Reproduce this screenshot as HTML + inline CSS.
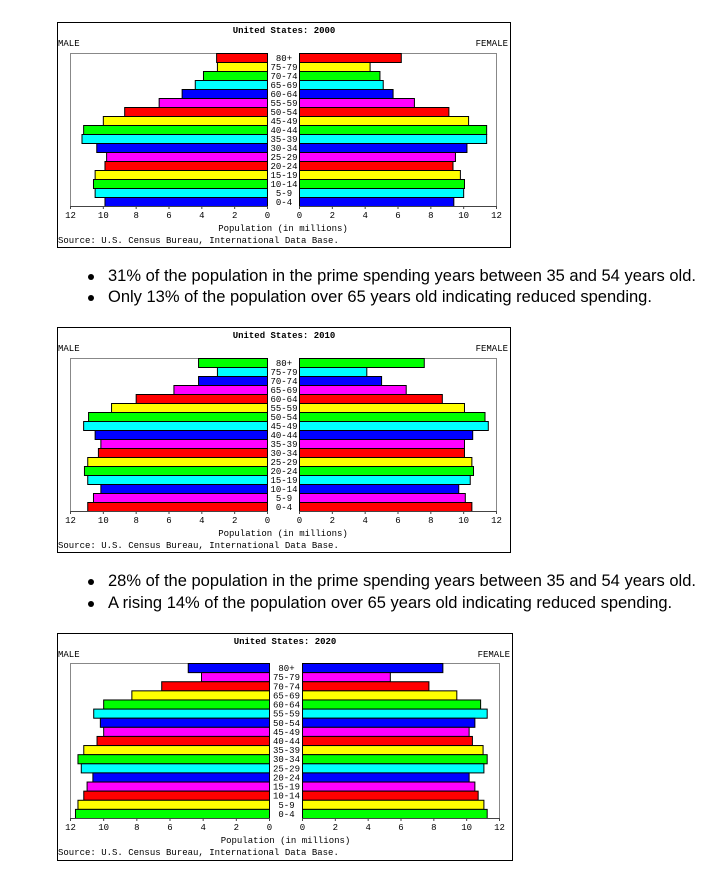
<!DOCTYPE html>
<html><head><meta charset="utf-8">
<style>
body{margin:0;background:#fff;width:705px;height:879px;position:relative;overflow:hidden;font-family:"Liberation Sans",Arial,sans-serif}
svg{position:absolute}
svg text{font-family:"Liberation Mono","DejaVu Sans Mono",monospace;font-size:9px;fill:#000}
.bul{position:absolute;left:88px;font-size:16.5px;color:#000;white-space:nowrap}
.bul span.dot{position:absolute;left:0;top:7px;width:6px;height:6px;border-radius:50%;background:#000}
.bul span.t{position:absolute;left:20px;top:0}
</style></head><body>
<svg id="c1" style="left:57px;top:22px" width="454" height="226"></svg>
<div class="bul" style="top:267px"><span class="dot"></span><span class="t">31% of the population in the prime spending years between 35 and 54 years old.</span></div>
<div class="bul" style="top:288px"><span class="dot"></span><span class="t">Only 13% of the population over 65 years old indicating reduced spending.</span></div>
<svg id="c2" style="left:57px;top:327px" width="454" height="226"></svg>
<div class="bul" style="top:572px"><span class="dot"></span><span class="t">28% of the population in the prime spending years between 35 and 54 years old.</span></div>
<div class="bul" style="top:594px"><span class="dot"></span><span class="t">A rising 14% of the population over 65 years old indicating reduced spending.</span></div>
<svg id="c3" style="left:57px;top:633px" width="456" height="228"></svg>
<script>
const ages = ["80+","75-79","70-74","65-69","60-64","55-59","50-54","45-49","40-44","35-39","30-34","25-29","20-24","15-19","10-14","5-9","0-4"];
const ticks = [12,10,8,6,4,2,0];
const male2000 = [3.1,3.05,3.9,4.4,5.2,6.6,8.7,10.0,11.2,11.3,10.4,9.8,9.9,10.5,10.6,10.5,9.9];
const female2000 = [6.2,4.3,4.9,5.1,5.7,7.0,9.1,10.3,11.4,11.4,10.2,9.5,9.35,9.8,10.05,10.0,9.4];
const colors2000 = ["#ff0000","#ffff00","#00ff00","#00ffff","#0000ff","#ff00ff","#ff0000","#ffff00","#00ff00","#00ffff","#0000ff","#ff00ff","#ff0000","#ffff00","#00ff00","#00ffff","#0000ff"];
const male2010 = [4.2,3.05,4.2,5.7,8.0,9.5,10.9,11.2,10.5,10.15,10.3,10.95,11.15,10.95,10.15,10.6,10.95];
const female2010 = [7.6,4.1,5.0,6.5,8.7,10.05,11.3,11.5,10.55,10.05,10.05,10.5,10.6,10.4,9.7,10.1,10.5];
const colors2010 = ["#00ff00","#00ffff","#0000ff","#ff00ff","#ff0000","#ffff00","#00ff00","#00ffff","#0000ff","#ff00ff","#ff0000","#ffff00","#00ff00","#00ffff","#0000ff","#ff00ff","#ff0000"];
const male2020 = [4.9,4.1,6.5,8.3,10.0,10.6,10.2,10.0,10.4,11.2,11.55,11.35,10.65,11.0,11.2,11.55,11.7];
const female2020 = [8.55,5.35,7.7,9.4,10.85,11.25,10.5,10.15,10.35,11.0,11.25,11.05,10.15,10.5,10.7,11.05,11.25];
const colors2020 = ["#0000ff","#ff00ff","#ff0000","#ffff00","#00ff00","#00ffff","#0000ff","#ff00ff","#ff0000","#ffff00","#00ff00","#00ffff","#0000ff","#ff00ff","#ff0000","#ffff00","#00ff00"];

const NS="http://www.w3.org/2000/svg";
function mk(svg,tag,attrs,txt){const e=document.createElementNS(NS,tag);for(const k in attrs)e.setAttribute(k,attrs[k]);if(txt!==undefined)e.textContent=txt;svg.appendChild(e);return e;}

function draw(id,year,male,female,colors,g){
  const svg=document.getElementById(id);
  const W=+svg.getAttribute('width'),H=+svg.getAttribute('height');
  const xL=v=>g.zl-(g.zl-g.l)*v/12;
  const xR=v=>g.zr+(g.r-g.zr)*v/12;
  const slot=(g.b-g.t)/ages.length;
  const yB=i=>g.t+i*slot;
  let e=mk(svg,'rect',{x:0.5,y:0.5,width:W-1,height:H-1,fill:'#fff',stroke:'#000','stroke-width':1});
  
  
  e=mk(svg,'text',{x:W/2,y:11,'text-anchor':'middle','font-weight':'bold','font-size':'10px'},'United States: '+year);
  
  
  e=mk(svg,'text',{x:1,y:24},'MALE');
  
  
  e=mk(svg,'text',{x:W-3,y:24,'text-anchor':'end'},'FEMALE');
  
  
  e=mk(svg,'path',{d:`M${g.l+0.5},${g.b}V${g.t+0.5}H${g.zl+0.5}M${g.zr+0.5},${g.t+0.5}H${g.r+0.5}V${g.b}`,fill:'none',stroke:'#888','stroke-width':1});
  
  
  ages.forEach((a,i)=>{
    const y=yB(i);
    let r=mk(svg,'rect',{x:xL(male[i])+0.5,y:y+0.5,width:g.zl-xL(male[i]),height:slot,fill:colors[i],stroke:'#000','stroke-width':1});
    
    
    r=mk(svg,'rect',{x:g.zr+0.5,y:y+0.5,width:xR(female[i])-g.zr,height:slot,fill:colors[i],stroke:'#000','stroke-width':1});
    
    
    const t=mk(svg,'text',{x:(g.zl+g.zr)/2+1,y:y+slot/2+3.5,'text-anchor':'middle'},a);
    
    
  });
  e=mk(svg,'path',{d:`M${g.l},${g.b+0.5}H${g.zl+1}M${g.zr},${g.b+0.5}H${g.r+1}`,stroke:'#444','stroke-width':1});
  
  
  ticks.forEach(v=>{
    [xL(v),xR(v)].forEach((x,k)=>{
      mk(svg,'line',{x1:x+0.5,x2:x+0.5,y1:g.b,y2:g.b+3,stroke:'#444'});
      const t=mk(svg,'text',{x:x+0.5,y:g.b+12,'text-anchor':'middle'},String(v));
      
      
    });
  });
  e=mk(svg,'text',{x:(g.zl+g.zr)/2,y:g.b+25,'text-anchor':'middle'},'Population (in millions)');
  
  
  e=mk(svg,'text',{x:1,y:g.b+37},'Source: U.S. Census Bureau, International Data Base.');
  
  
}
const g12={l:13,zl:210,zr:242,r:439,t:31,b:184};
draw('c1','2000',male2000,female2000,colors2000,g12);
draw('c2','2010',male2010,female2010,colors2010,g12);
draw('c3','2020',male2020,female2020,colors2020,{l:13,zl:212,zr:245,r:442,t:30,b:185});
</script>
</body></html>
